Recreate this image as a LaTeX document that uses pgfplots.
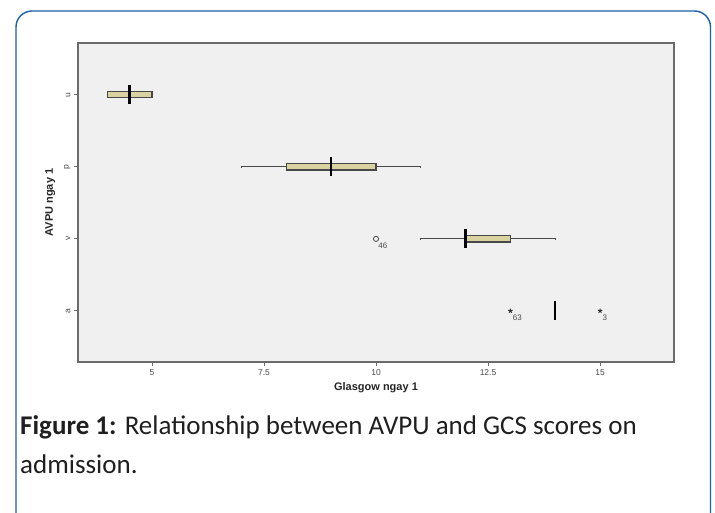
\documentclass[border=0pt]{standalone}
\usepackage{pgfplots}
\pgfplotsset{compat=1.18}
\usepgfplotslibrary{statistics}
\usetikzlibrary{plotmarks}
\usepackage{fontspec}
\setmainfont{Liberation Sans}
\newfontfamily\capfont{Carlito}
\definecolor{bordblue}{HTML}{1C5EA8}
\definecolor{bgc}{HTML}{F0F0F0}
\definecolor{framec}{HTML}{6A6A6A}
\definecolor{boxfill}{HTML}{D9D3A1}
\definecolor{boxline}{HTML}{484848}
\definecolor{txtgray}{HTML}{4A4A4A}
\pgfplotsset{boxplot/every whisker/.style={line width=1.1pt, draw=boxline}}
\begin{document}
\begin{tikzpicture}[x=1pt,y=1pt]
\useasboundingbox (0,0) rectangle (715,513);
\begin{scope}
\clip (0,0) rectangle (715,513);
\draw[bordblue, line width=1.4pt, rounded corners=16pt] (16,-40) rectangle (710.5,502);
\end{scope}
\begin{axis}[
  at={(78pt,151pt)}, anchor=south west,
  scale only axis, width=596pt, height=319pt,
  xmin=3.35, xmax=16.65, ymin=0.29, ymax=4.72,
  xtick={5,7.5,10,12.5,15},
  ytick={1,2,3,4}, yticklabels={a,v,p,u},
  axis background/.style={fill=bgc},
  axis line style={draw=framec, line width=1.1pt},
  tick align=outside, major tick length=4pt,
  tick style={draw=framec, line width=0.8pt},
  xtick pos=bottom, ytick pos=left,
  /pgf/number format/assume math mode=true,
  ticklabel style={font=\fontsize{8.5}{10}\selectfont, text=txtgray},
  yticklabel style={rotate=90, anchor=south},
  xlabel={Glasgow ngay 1}, ylabel={AVPU ngay 1},
  label style={font=\fontsize{11}{13}\selectfont\bfseries, text=black!85},
  xlabel style={yshift=0pt},
  ylabel style={yshift=2pt},
  clip=false,
]
% boxplots (horizontal)
\addplot[boxplot prepared={lower whisker=4, lower quartile=4, median=4.5, upper quartile=5, upper whisker=5, draw position=4, box extend=0.085, whisker extend=0.035, draw direction=x}, draw=boxline, fill=boxfill, line width=1.2pt] coordinates {};
\addplot[boxplot prepared={lower whisker=7, lower quartile=8, median=9, upper quartile=10, upper whisker=11, draw position=3, box extend=0.085, whisker extend=0.035, draw direction=x}, draw=boxline, fill=boxfill, line width=1.2pt] coordinates {};
\addplot[boxplot prepared={lower whisker=11, lower quartile=12, median=12, upper quartile=13, upper whisker=14, draw position=2, box extend=0.085, whisker extend=0.035, draw direction=x}, draw=boxline, fill=boxfill, line width=1.2pt] coordinates {};
% medians
\addplot[only marks, mark=|, mark size=9.5pt, line width=2.4pt, black] coordinates {(4.5,4) (9,3) (12,2) (14,1)};
% outliers
\addplot[only marks, mark=o, mark size=2.6pt, line width=0.8pt, black!70] coordinates {(10,2)};
\addplot[only marks, mark=star, mark size=2.3pt, line width=1pt, black!80] coordinates {(13,1) (15,1)};
\node[anchor=north west, font=\fontsize{8}{9}\selectfont, text=txtgray, inner sep=0pt] at (axis cs:10.05,1.95) {46};
\node[anchor=north west, font=\fontsize{8}{9}\selectfont, text=txtgray, inner sep=0pt] at (axis cs:13.05,0.95) {63};
\node[anchor=north west, font=\fontsize{8}{9}\selectfont, text=txtgray, inner sep=0pt] at (axis cs:15.05,0.95) {3};
\end{axis}
\node[anchor=base west, inner sep=0pt, font=\fontsize{27}{32}\selectfont\capfont, text=black!88] at (20,78) {\textbf{Figure 1:} Relationship between AVPU and GCS scores on};
\node[anchor=base west, inner sep=0pt, font=\fontsize{27}{32}\selectfont\capfont, text=black!88] at (20,39) {admission.};
\end{tikzpicture}
\end{document}
